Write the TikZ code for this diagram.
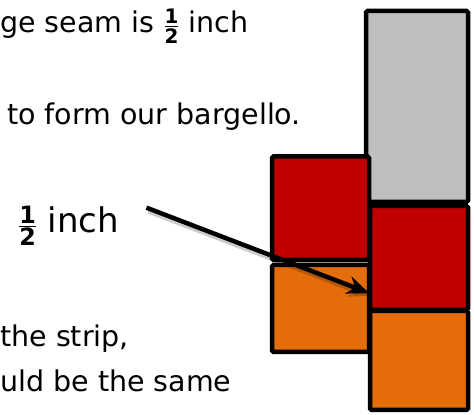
\documentclass[tikz,border=0pt]{standalone}
\usepackage{amsmath}
\usepackage{fontspec}
\setmainfont{DejaVu Sans}
\usepackage{tikz}
\usetikzlibrary{arrows.meta}
\definecolor{stripgray}{HTML}{BFBFBF}
\definecolor{stripred}{HTML}{C00000}
\definecolor{striporange}{HTML}{E46C0A}
\newcommand{\halfsym}{\ensuremath{\frac{\text{\bfseries 1}}{\text{\bfseries 2}}}}

\begin{document}
\begin{tikzpicture}[x=1pt, y=1pt,
  patch/.style={draw=black, line width=4.5pt, rounded corners=1.5pt, inner sep=0pt},
  txt/.style={anchor=base west, inner sep=0pt, font=\fontsize{28.5}{34}\selectfont},
  big/.style={anchor=base west, inner sep=0pt, font=\fontsize{34}{40}\selectfont},
  arr/.style={-{Stealth[length=22pt,width=18pt]}, line width=4.5pt},
  shade/.style={-{Stealth[length=22pt,width=18pt]}, line width=6pt, draw=black, opacity=0.2}
]
\useasboundingbox (0,0) rectangle (474,415);
\node[patch, fill=stripgray, minimum width=102pt, minimum height=191pt] (gray) at (417,308.5) {};
\node[patch, fill=stripred, minimum width=98pt, minimum height=104pt] (red2) at (419,157) {};
\node[patch, fill=striporange, minimum width=98pt, minimum height=99pt] (orange2) at (419,54.5) {};
\node[patch, fill=stripred, minimum width=97pt, minimum height=103.5pt] (red1) at (320.5,206.75) {};
\node[patch, fill=striporange, minimum width=97pt, minimum height=87pt] (orange1) at (320.5,106.5) {};

\node[txt] (seam) at (0,382) {ge seam is \halfsym{} inch};
\node[txt] (form) at (7,290) {to form our bargello.};
\node[big] (half) at (18,182) {\halfsym{} inch};
\node[txt] (strip) at (0,68) {the strip,};
\node[txt] (same) at (0,23) {uld be the same};

\coordinate (tip) at (369,122);
\draw[shade] ([xshift=29pt,yshift=-5pt]half.north east) -- ([xshift=2pt,yshift=-3pt]tip);
\draw[arr] ([xshift=27pt,yshift=-2pt]half.north east) -- (tip);
\end{tikzpicture}
\end{document}
